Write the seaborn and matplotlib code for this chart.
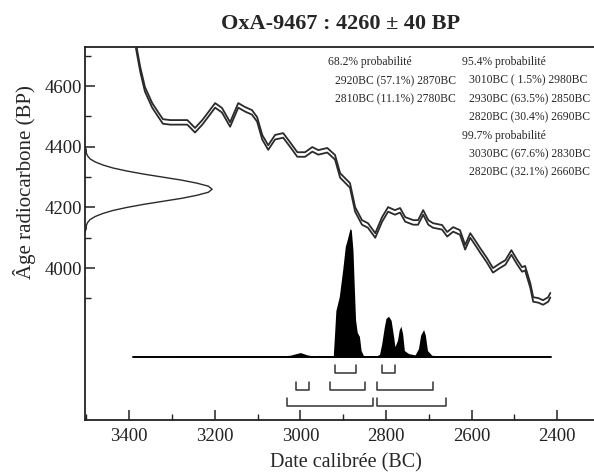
import numpy as np
import matplotlib
matplotlib.use('Agg')
import matplotlib.pyplot as plt
import seaborn as sns
import pandas as pd

# calibration curve (upper line), years BC and radiocarbon age BP
cal_years = [3384, 3374, 3363, 3346, 3332, 3321, 3304, 3264, 3257, 3246, 3229, 3215,
             3199, 3183, 3164, 3145, 3129, 3113, 3101, 3089, 3075, 3059, 3040, 3024,
             3007, 2989, 2972, 2958, 2937, 2919, 2907, 2884, 2872, 2856, 2842, 2825,
             2809, 2795, 2779, 2767, 2755, 2736, 2725, 2713, 2701, 2690, 2669, 2657,
             2643, 2627, 2615, 2603, 2592, 2580, 2564, 2550, 2533, 2521, 2507, 2493,
             2482, 2475, 2463, 2456, 2444, 2433, 2421, 2416]
cal_upper = [4740, 4663, 4597, 4544, 4514, 4491, 4488, 4488, 4478, 4462, 4488, 4514,
             4544, 4528, 4481, 4544, 4531, 4521, 4498, 4439, 4405, 4439, 4445, 4415,
             4382, 4382, 4399, 4389, 4396, 4373, 4313, 4280, 4201, 4158, 4148, 4115,
             4168, 4201, 4191, 4198, 4168, 4158, 4158, 4191, 4158, 4148, 4142, 4119,
             4135, 4125, 4076, 4115, 4092, 4066, 4033, 4000, 4016, 4026, 4059, 4026,
             4003, 4007, 3951, 3904, 3901, 3894, 3904, 3918]
cal_gap = 15

bp_ages = [4400, 4390, 4380, 4370, 4360, 4350, 4340, 4330, 4320, 4310, 4300, 4290,
           4280, 4270, 4260, 4250, 4240, 4230, 4220, 4210, 4200, 4190, 4180, 4170,
           4160, 4150, 4140, 4130, 4120]
bp_prob = [0.00, 0.01, 0.01, 0.02, 0.04, 0.08, 0.14, 0.22, 0.33, 0.46, 0.61, 0.76,
           0.88, 0.97, 1.00, 0.97, 0.88, 0.76, 0.61, 0.46, 0.33, 0.22, 0.14, 0.08,
           0.04, 0.02, 0.01, 0.01, 0.00]

# calibrated probability distribution (relative)
dist_years = [3390, 3300, 3200, 3100, 3060, 3024, 3000, 2984, 2970, 2958, 2947, 2926,
              2923, 2920, 2917, 2909, 2901, 2895, 2890, 2884, 2881, 2877, 2874, 2871,
              2867, 2862, 2858, 2853, 2845, 2822, 2815, 2810, 2804, 2800, 2794, 2788,
              2782, 2779, 2773, 2769, 2765, 2761, 2757, 2747, 2732, 2724, 2719, 2712,
              2708, 2703, 2693, 2673, 2643, 2611, 2415]
dist_prob = [0.0, 0.002, 0.003, 0.006, 0.004, 0.013, 0.034, 0.016, 0.008, 0.012, 0.008, 0.008,
             0.01, 0.18, 0.36, 0.47, 0.68, 0.86, 0.92, 1.0, 0.99, 0.83, 0.55, 0.29,
             0.19, 0.16, 0.05, 0.013, 0.008, 0.008, 0.02, 0.1, 0.23, 0.3, 0.317, 0.286,
             0.156, 0.08, 0.13, 0.21, 0.24, 0.18, 0.05, 0.026, 0.016, 0.065, 0.17, 0.213,
             0.17, 0.05, 0.013, 0.008, 0.005, 0.0, 0.0]

# probability ranges
ranges_68 = [(2920, 2870), (2810, 2780)]
ranges_95 = [(3010, 2980), (2930, 2850), (2820, 2690)]
ranges_99 = [(3030, 2830), (2820, 2660)]

text_68 = ['68.2% probabilité', '2920BC (57.1%) 2870BC', '2810BC (11.1%) 2780BC']
text_95 = ['95.4% probabilité', '3010BC ( 1.5%) 2980BC', '2930BC (63.5%) 2850BC',
           '2820BC (30.4%) 2690BC', '99.7% probabilité', '3030BC (67.6%) 2830BC',
           '2820BC (32.1%) 2660BC']

sns.set_style('ticks')
plt.rcParams['font.family'] = ['Liberation Serif', 'DejaVu Serif']

W, H = 594, 474
fig = plt.figure(figsize=(W / 100, H / 100), dpi=100)
ax = fig.add_axes([85 / W, 1 - 420 / H, (W - 85) / W, (420 - 47) / H])

x_left, x_right = 3503, 2314
y_bot, y_top = 3499, 4729

# calibration curve, two lines
cal = pd.DataFrame({'year': cal_years, 'upper': cal_upper})
cal['lower'] = cal['upper'] - cal_gap
sns.lineplot(data=cal, x='year', y='upper', color='#2a2a2a', lw=1.3, estimator=None, ax=ax)
sns.lineplot(data=cal, x='year', y='lower', color='#2a2a2a', lw=1.3, estimator=None, ax=ax)

# radiocarbon measurement on the y axis
amp = 297
gx = [x_left - p * amp for p in bp_prob]
ax.plot(gx, bp_ages, color='#2a2a2a', lw=1.0)

# calibrated distribution
base = 3707
scale = 423
top = [base + p * scale for p in dist_prob]
ax.fill_between(dist_years, base, top, color='black', lw=0)
ax.plot([dist_years[0], dist_years[-1]], [base, base], color='black', lw=1.4)

# range brackets
tick_h = 26
for rows, yb in [(ranges_68, 3654), (ranges_95, 3598), (ranges_99, 3545)]:
    for a, b in rows:
        ax.plot([a, a, b, b], [yb + tick_h, yb, yb, yb + tick_h], color='#333333', lw=1.1)

ax.set_xlim(x_left, x_right)
ax.set_ylim(y_bot, y_top)
ax.set_xticks([3400, 3200, 3000, 2800, 2600, 2400])
ax.set_xticks([3500, 3300, 3100, 2900, 2700, 2500], minor=True)
ax.set_yticks([4000, 4200, 4400, 4600])
ax.set_yticks([3900, 4100, 4300, 4500, 4700], minor=True)
ax.tick_params(direction='in', length=7, width=1.1, labelsize=13.5, colors='#222222')
ax.tick_params(which='minor', direction='in', length=4, width=1.0, colors='#222222')
ax.tick_params(axis='x', pad=6)
ax.tick_params(axis='y', pad=2)
ax.set_xlabel('')
ax.set_ylabel('')
for s in ['left', 'bottom', 'top']:
    ax.spines[s].set_linewidth(1.3)
    ax.spines[s].set_color('#222222')
ax.spines['right'].set_visible(False)

fig.text(341 / W, 1 - 24 / H, 'OxA-9467 : 4260 ± 40 BP', ha='center', va='center',
         fontsize=16, fontweight='bold')
fig.text(25 / W, 1 - 182 / H, 'Âge radiocarbone (BP)', ha='center', va='center',
         rotation=90, fontsize=15)
fig.text(346 / W, 1 - 463 / H, 'Date calibrée (BC)', ha='center', va='center', fontsize=14.5)

# probability text
fig.text(328 / W, 1 - 62 / H, text_68[0], fontsize=8.4, va='center')
for i, t in enumerate(text_68[1:]):
    fig.text(335 / W, 1 - (81 + 18.5 * i) / H, t, fontsize=8.4, va='center')
for i, t in enumerate(text_95):
    xx = 462 if 'probabilité' in t else 469
    fig.text(xx / W, 1 - (62 + 18.4 * i) / H, t, fontsize=8.4, va='center')

plt.savefig('out.png', dpi=100)
